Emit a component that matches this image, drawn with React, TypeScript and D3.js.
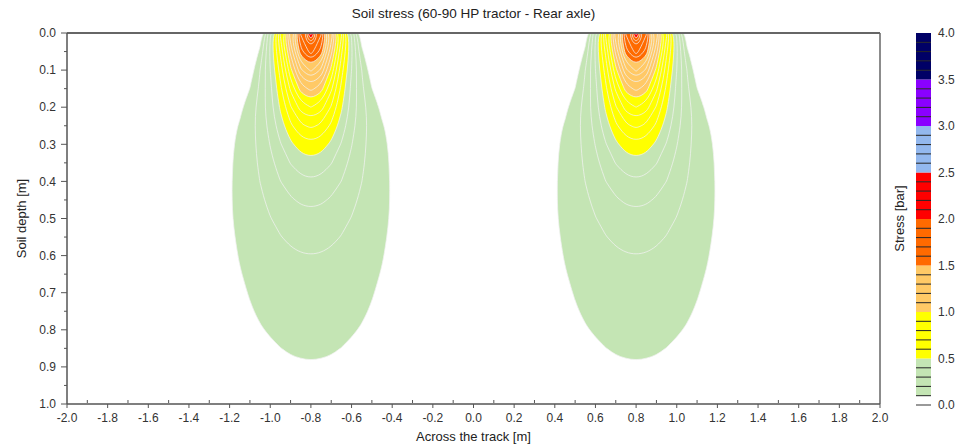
import React from "react";
import * as d3 from "d3";

const title = "Soil stress (60-90 HP tractor - Rear axle)";
const xLabel = "Across the track [m]";
const yLabel = "Soil depth [m]";
const barLabel = "Stress [bar]";

// wheel centres across the track [m]
const wheelCenters = [-0.8, 0.8];

// stress table under one wheel: columns = lateral offset from wheel centre [m]
const offsets = [0, 0.05, 0.1, 0.15, 0.2, 0.25, 0.3, 0.35, 0.4, 0.45];
// rows = depth [m]
const depths = [0, 0.05, 0.1, 0.15, 0.2, 0.25, 0.3, 0.35, 0.4, 0.45, 0.5,
  0.55, 0.6, 0.65, 0.7, 0.75, 0.8, 0.85, 0.9, 0.95, 1.0];

// stress [bar], estimated from the contour bands of the picture
const stress = [
  [2.15, 1.72, 1.27, 0.82, 0.39, 0.03, 0, 0, 0, 0],
  [1.75, 1.56, 1.13, 0.72, 0.42, 0.12, 0, 0, 0, 0],
  [1.42, 1.28, 0.97, 0.64, 0.40, 0.20, 0.04, 0, 0, 0],
  [1.13, 1.04, 0.82, 0.575, 0.375, 0.22, 0.102, 0.02, 0, 0],
  [0.90, 0.84, 0.69, 0.515, 0.36, 0.24, 0.145, 0.08, 0.03, 0],
  [0.72, 0.68, 0.58, 0.455, 0.335, 0.238, 0.163, 0.108, 0.07, 0.045],
  [0.57, 0.545, 0.48, 0.393, 0.304, 0.226, 0.165, 0.118, 0.085, 0.061],
  [0.465, 0.449, 0.404, 0.342, 0.276, 0.215, 0.163, 0.122, 0.09, 0.067],
  [0.385, 0.374, 0.343, 0.299, 0.249, 0.201, 0.158, 0.122, 0.093, 0.071],
  [0.32, 0.312, 0.29, 0.259, 0.222, 0.184, 0.149, 0.119, 0.094, 0.073],
  [0.27, 0.265, 0.249, 0.225, 0.197, 0.168, 0.14, 0.115, 0.093, 0.074],
  [0.23, 0.226, 0.215, 0.197, 0.176, 0.153, 0.13, 0.109, 0.09, 0.074],
  [0.198, 0.195, 0.186, 0.173, 0.157, 0.139, 0.121, 0.103, 0.087, 0.073],
  [0.172, 0.17, 0.163, 0.153, 0.14, 0.126, 0.111, 0.097, 0.083, 0.071],
  [0.152, 0.15, 0.145, 0.137, 0.127, 0.116, 0.103, 0.091, 0.08, 0.069],
  [0.135, 0.134, 0.13, 0.123, 0.115, 0.106, 0.096, 0.086, 0.076, 0.066],
  [0.12, 0.119, 0.116, 0.111, 0.104, 0.097, 0.088, 0.08, 0.071, 0.063],
  [0.107, 0.106, 0.104, 0.0995, 0.094, 0.088, 0.081, 0.074, 0.067, 0.06],
  [0.096, 0.095, 0.093, 0.09, 0.086, 0.081, 0.075, 0.069, 0.063, 0.057],
  [0.087, 0.086, 0.085, 0.082, 0.079, 0.075, 0.07, 0.065, 0.06, 0.055],
  [0.079, 0.079, 0.077, 0.075, 0.073, 0.069, 0.065, 0.061, 0.057, 0.052],
];

// one colour per 0.5 bar, each split into 0.1 bar contour steps
const bandColors = ["#c4e5b4", "#ffff00", "#ffc966", "#ff6a00", "#ff0000", "#93b8ee", "#8a00ff", "#000066"];
const levelStep = 0.1;
const levels = d3.range(1, 41).map(i => i * levelStep);

const xTicks = [-2.0, -1.8, -1.6, -1.4, -1.2, -1.0, -0.8, -0.6, -0.4, -0.2, 0.0,
  0.2, 0.4, 0.6, 0.8, 1.0, 1.2, 1.4, 1.6, 1.8, 2.0];
const yTicks = [0.0, 0.1, 0.2, 0.3, 0.4, 0.5, 0.6, 0.7, 0.8, 0.9, 1.0];
const barTicks = [0.0, 0.5, 1.0, 1.5, 2.0, 2.5, 3.0, 3.5, 4.0];

const W = 962;
const H = 448;
const font = "'Liberation Sans', Arial, sans-serif";
const axisColor = "#555";
const textColor = "#333";

const colorOf = (t: number) => bandColors[Math.min(bandColors.length - 1, Math.floor(t / 0.5 + 1e-9))];

export default function App() {
  const x = d3.scaleLinear().domain([-2, 2]).range([67, 880]);
  const y = d3.scaleLinear().domain([0, 1]).range([33, 404]);
  const c = d3.scaleLinear().domain([0, 4]).range([405, 33]);

  // full grid across the track, each wheel uses the same table
  const step = offsets[1] - offsets[0];
  const nx = Math.round((x.domain()[1] - x.domain()[0]) / step) + 1;
  const ny = depths.length;
  const values: number[] = [];
  for (let j = 0; j < ny; j++) {
    for (let i = 0; i < nx; i++) {
      const gx = x.domain()[0] + i * step;
      let v = 0;
      wheelCenters.forEach(wc => {
        const k = Math.round(Math.abs(gx - wc) / step);
        if (k < offsets.length) v = Math.max(v, stress[j][k]);
      });
      values.push(v);
    }
  }

  const contours = d3.contours().size([nx, ny]).thresholds(levels)(values);

  const px = (g: number) => x(x.domain()[0] + (g - 0.5) * step);
  const py = (g: number) => y(depths[0] + (g - 0.5) * step);
  const ringLine = d3.line<number[]>()
    .x(p => px(p[0]))
    .y(p => py(p[1]))
    .curve(d3.curveBasisClosed);

  const toPath = (mp: d3.ContourMultiPolygon) =>
    mp.coordinates.map(poly => poly.map(ring => ringLine(ring.slice(0, -1))).join("")).join("");

  const xMinor = xTicks.slice(1).map((t, i) => (t + xTicks[i]) / 2);
  const yMinor = yTicks.slice(1).map((t, i) => (t + yTicks[i]) / 2);

  const [x0, x1] = x.range();
  const [y0, y1] = y.range();
  const barX = 916;
  const barW = 15;

  return (
    <svg width={W} height={H} style={{ position: "absolute", left: 0, top: 0, background: "#fff" }}>
      <defs>
        <clipPath id="plot-clip">
          <rect x={x0} y={y0} width={x1 - x0} height={y1 - y0} />
        </clipPath>
      </defs>

      <g clipPath="url(#plot-clip)">
        {contours.filter(d => d.coordinates.length > 0).map(d => (
          <path
            key={d.value}
            d={toPath(d)}
            fill={colorOf(d.value)}
            fillRule="evenodd"
            stroke="#f2f2f2"
            strokeOpacity={0.75}
            strokeWidth={1}
          />
        ))}
      </g>

      {/* frame */}
      <line x1={x0} x2={x1} y1={y0} y2={y0} stroke="#666" strokeWidth={2} />
      <line x1={x1} x2={x1} y1={y0} y2={y1} stroke="#666" strokeWidth={1.5} />
      <line x1={x0} x2={x0} y1={y0} y2={y1} stroke={axisColor} strokeWidth={1.5} />
      <line x1={x0} x2={x1} y1={y1} y2={y1} stroke={axisColor} strokeWidth={1.5} />

      {/* y axis */}
      {yTicks.map(t => (
        <g key={"y" + t}>
          <line x1={x0 - 6} x2={x0} y1={y(t)} y2={y(t)} stroke={axisColor} />
          <text x={x0 - 11} y={y(t)} dy="0.35em" textAnchor="end" fontSize={12} fontFamily={font} fill={textColor}>
            {t.toFixed(1)}
          </text>
        </g>
      ))}
      {yMinor.map(t => (
        <line key={"ym" + t} x1={x0 - 3} x2={x0} y1={y(t)} y2={y(t)} stroke={axisColor} />
      ))}

      {/* x axis */}
      {xTicks.map(t => (
        <g key={"x" + t}>
          <line x1={x(t)} x2={x(t)} y1={y1} y2={y1 + 4} stroke={axisColor} />
          <text x={x(t)} y={y1 + 18} textAnchor="middle" fontSize={12} fontFamily={font} fill={textColor}>
            {t.toFixed(1)}
          </text>
        </g>
      ))}
      {xMinor.map(t => (
        <line key={"xm" + t} x1={x(t)} x2={x(t)} y1={y1 - 4} y2={y1 - 1} stroke={axisColor} />
      ))}

      {/* titles */}
      <text x={(x0 + x1) / 2} y={18} textAnchor="middle" fontSize={13.5} fontFamily={font} fill="#222">
        {title}
      </text>
      <text x={(x0 + x1) / 2} y={441} textAnchor="middle" fontSize={13} fontFamily={font} fill="#222">
        {xLabel}
      </text>
      <text
        transform={`translate(26,${(y0 + y1) / 2}) rotate(-90)`}
        textAnchor="middle"
        fontSize={13}
        fontFamily={font}
        fill="#222"
      >
        {yLabel}
      </text>

      {/* colour bar */}
      {levels.filter(t => t < 4 - 1e-9).map(t => (
        <rect
          key={"b" + t}
          x={barX}
          y={c(t + levelStep)}
          width={barW}
          height={c(t) - c(t + levelStep)}
          fill={colorOf(t)}
        />
      ))}
      {levels.filter(t => t < 4 - 1e-9 && Math.abs(t / 0.5 - Math.round(t / 0.5)) > 1e-6).map(t => (
        <line key={"bl" + t} x1={barX} x2={barX + barW} y1={c(t)} y2={c(t)} stroke="#222" strokeWidth={1} />
      ))}
      <line x1={barX} x2={barX + barW} y1={c(0)} y2={c(0)} stroke="#777" strokeWidth={1.5} />
      {barTicks.map(t => (
        <text key={"bt" + t} x={barX + barW + 7} y={c(t)} dy="0.35em" fontSize={12} fontFamily={font} fill={textColor}>
          {t.toFixed(1)}
        </text>
      ))}
      <text
        transform={`translate(904,${(y0 + y1) / 2}) rotate(-90)`}
        textAnchor="middle"
        fontSize={13}
        fontFamily={font}
        fill="#222"
      >
        {barLabel}
      </text>
    </svg>
  );
}
